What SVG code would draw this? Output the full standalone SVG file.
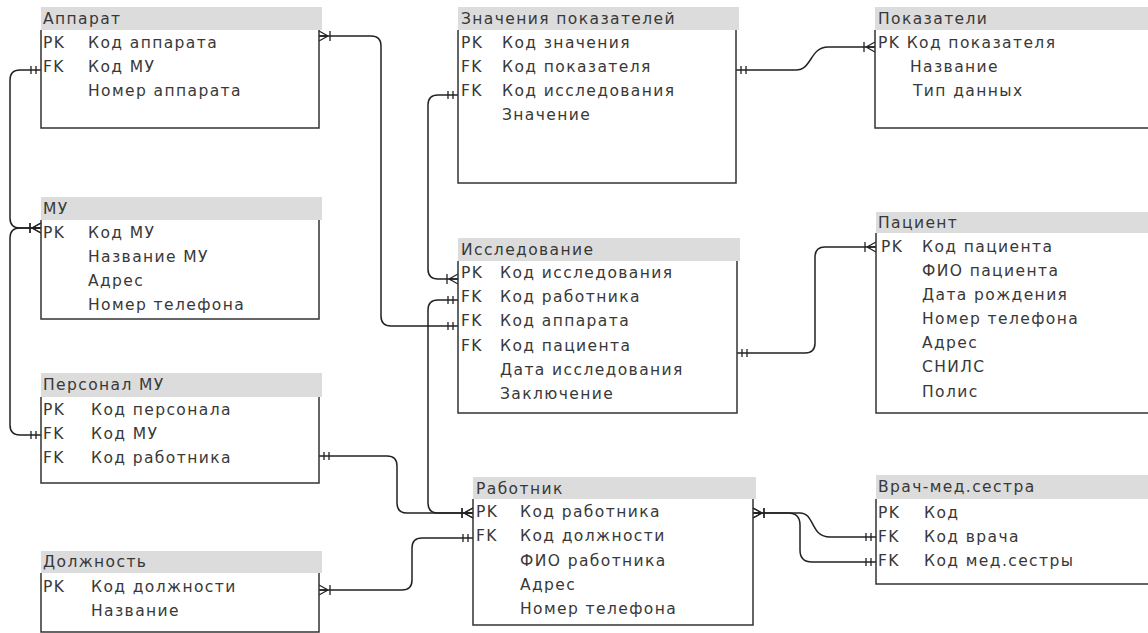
<svg xmlns="http://www.w3.org/2000/svg" width="1148" height="633" viewBox="0 0 1148 633">
<style>
.hdr{fill:#dcdcdc}
.brd{fill:none;stroke:#333;stroke-width:1.5}
.t{font-family:"DejaVu Sans",Verdana,sans-serif;font-size:15.5px;letter-spacing:1.4px;fill:#383838}
.c{fill:none;stroke:#222;stroke-width:1.5}
.mk{fill:none;stroke:#222;stroke-width:1.3}
</style>
<defs>
<marker id="one" markerUnits="userSpaceOnUse" markerWidth="14" markerHeight="12" viewBox="0 0 14 12" refX="14" refY="6" orient="auto" overflow="visible"><path class="mk" d="M4,2V10M9,2V10"/></marker>
<marker id="oneS" markerUnits="userSpaceOnUse" markerWidth="14" markerHeight="12" viewBox="0 0 14 12" refX="14" refY="6" orient="auto-start-reverse" overflow="visible"><path class="mk" d="M4,2V10M9,2V10"/></marker>
<marker id="many" markerUnits="userSpaceOnUse" markerWidth="14" markerHeight="12" viewBox="0 0 14 12" refX="14" refY="6" orient="auto" overflow="visible"><path class="mk" d="M3,1V11M5,6L14,1M5,6L14,11M5,6H14"/></marker>
<marker id="manyS" markerUnits="userSpaceOnUse" markerWidth="14" markerHeight="12" viewBox="0 0 14 12" refX="14" refY="6" orient="auto-start-reverse" overflow="visible"><path class="mk" d="M3,1V11M5,6L14,1M5,6L14,11M5,6H14"/></marker>
</defs>
<rect width="1148" height="633" fill="#fff"/>

<g id="connectors">
<path class="c" d="M319,36H371Q381,36 381,46V316Q381,326 391,326H458" marker-start="url(#manyS)" marker-end="url(#one)"/>
<path class="c" d="M41,228H20Q10,228 10,218V80Q10,70 20,70H41" marker-start="url(#manyS)" marker-end="url(#one)"/>
<path class="c" d="M41,228H20Q10,228 10,238V425Q10,435 20,435H41" marker-start="url(#manyS)" marker-end="url(#one)"/>
<path class="c" d="M736,70H796C812,70 810,47 828,47H875" marker-start="url(#oneS)" marker-end="url(#many)"/>
<path class="c" d="M458,95H438Q428,95 428,105V269Q428,279 438,279H458" marker-start="url(#oneS)" marker-end="url(#many)"/>
<path class="c" d="M458,300H438Q428,300 428,310V503Q428,513 438,513H473" marker-start="url(#oneS)" marker-end="url(#many)"/>
<path class="c" d="M319,456H387Q397,456 397,466V503Q397,513 407,513H473" marker-start="url(#oneS)" marker-end="url(#many)"/>
<path class="c" d="M319,590H402Q412,590 412,580V548Q412,538 422,538H473" marker-start="url(#manyS)" marker-end="url(#one)"/>
<path class="c" d="M737,353H805Q815,353 815,343V257Q815,247 825,247H876" marker-start="url(#oneS)" marker-end="url(#many)"/>
<path class="c" d="M753,513H800C815,513 810,537 830,537H876" marker-start="url(#manyS)" marker-end="url(#one)"/>
<path class="c" d="M753,513H788Q800,513 800,525V550Q800,562 812,562H876" marker-start="url(#manyS)" marker-end="url(#one)"/>
</g>

<g id="apparat">
<rect class="hdr" x="41" y="7" width="281" height="23"/>
<path class="brd" d="M41,30V128H319V30"/>
<text class="t" x="43" y="24">Аппарат</text>
<text class="t" x="43" y="48">PK</text><text class="t" x="88" y="48">Код аппарата</text>
<text class="t" x="43" y="72">FK</text><text class="t" x="88" y="72">Код МУ</text>
<text class="t" x="88" y="96">Номер аппарата</text>
</g>

<g id="znacheniya">
<rect class="hdr" x="458" y="7" width="281" height="23"/>
<path class="brd" d="M458,30V183H736V30"/>
<text class="t" x="461" y="24">Значения показателей</text>
<text class="t" x="461" y="48">PK</text><text class="t" x="502" y="48">Код значения</text>
<text class="t" x="461" y="72">FK</text><text class="t" x="502" y="72">Код показателя</text>
<text class="t" x="461" y="96">FK</text><text class="t" x="502" y="96">Код исследования</text>
<text class="t" x="502" y="120">Значение</text>
</g>

<g id="pokazateli">
<rect class="hdr" x="875" y="7" width="273" height="23"/>
<path class="brd" d="M875,30V128H1160"/>
<text class="t" x="878" y="24">Показатели</text>
<text class="t" x="878" y="48">PK Код показателя</text>
<text class="t" x="910" y="72">Название</text>
<text class="t" x="913" y="96">Тип данных</text>
</g>

<g id="mu">
<rect class="hdr" x="41" y="197" width="281" height="23"/>
<path class="brd" d="M41,220V319H319V220"/>
<text class="t" x="43" y="214">МУ</text>
<text class="t" x="43" y="238">PK</text><text class="t" x="88" y="238">Код МУ</text>
<text class="t" x="88" y="262">Название МУ</text>
<text class="t" x="88" y="286">Адрес</text>
<text class="t" x="88" y="310">Номер телефона</text>
</g>

<g id="personal">
<rect class="hdr" x="41" y="373" width="281" height="24"/>
<path class="brd" d="M41,397V483H319V397"/>
<text class="t" x="43" y="390">Персонал МУ</text>
<text class="t" x="43" y="415">PK</text><text class="t" x="91" y="415">Код персонала</text>
<text class="t" x="43" y="439">FK</text><text class="t" x="91" y="439">Код МУ</text>
<text class="t" x="43" y="463">FK</text><text class="t" x="91" y="463">Код работника</text>
</g>

<g id="dolzhnost">
<rect class="hdr" x="41" y="551" width="281" height="22"/>
<path class="brd" d="M41,573V632H319V573"/>
<text class="t" x="43" y="567">Должность</text>
<text class="t" x="43" y="592">PK</text><text class="t" x="91" y="592">Код должности</text>
<text class="t" x="91" y="616">Название</text>
</g>

<g id="issledovanie">
<rect class="hdr" x="458" y="238" width="282" height="23"/>
<path class="brd" d="M458,261V413H737V261"/>
<text class="t" x="461" y="255">Исследование</text>
<text class="t" x="461" y="278">PK</text><text class="t" x="500" y="278">Код исследования</text>
<text class="t" x="461" y="302">FK</text><text class="t" x="500" y="302">Код работника</text>
<text class="t" x="461" y="326">FK</text><text class="t" x="500" y="326">Код аппарата</text>
<text class="t" x="461" y="351">FK</text><text class="t" x="500" y="351">Код пациента</text>
<text class="t" x="500" y="375">Дата исследования</text>
<text class="t" x="500" y="399">Заключение</text>
</g>

<g id="pacient">
<rect class="hdr" x="876" y="212" width="272" height="21"/>
<path class="brd" d="M876,233V413H1160"/>
<text class="t" x="878" y="228">Пациент</text>
<text class="t" x="881" y="252">PK</text><text class="t" x="922" y="252">Код пациента</text>
<text class="t" x="922" y="276">ФИО пациента</text>
<text class="t" x="922" y="300">Дата рождения</text>
<text class="t" x="922" y="324">Номер телефона</text>
<text class="t" x="922" y="348">Адрес</text>
<text class="t" x="922" y="372">СНИЛС</text>
<text class="t" x="922" y="397">Полис</text>
</g>

<g id="rabotnik">
<rect class="hdr" x="473" y="477" width="283" height="22"/>
<path class="brd" d="M473,499V625H753V499"/>
<text class="t" x="476" y="494">Работник</text>
<text class="t" x="476" y="517">PK</text><text class="t" x="520" y="517">Код работника</text>
<text class="t" x="476" y="541">FK</text><text class="t" x="520" y="541">Код должности</text>
<text class="t" x="520" y="566">ФИО работника</text>
<text class="t" x="520" y="590">Адрес</text>
<text class="t" x="520" y="614">Номер телефона</text>
</g>

<g id="vrach">
<rect class="hdr" x="876" y="475" width="272" height="24"/>
<path class="brd" d="M876,499V584H1160"/>
<text class="t" x="878" y="492">Врач-мед.сестра</text>
<text class="t" x="878" y="518">PK</text><text class="t" x="924" y="518">Код</text>
<text class="t" x="878" y="542">FK</text><text class="t" x="924" y="542">Код врача</text>
<text class="t" x="878" y="566">FK</text><text class="t" x="924" y="566">Код мед.сестры</text>
</g>
</svg>
